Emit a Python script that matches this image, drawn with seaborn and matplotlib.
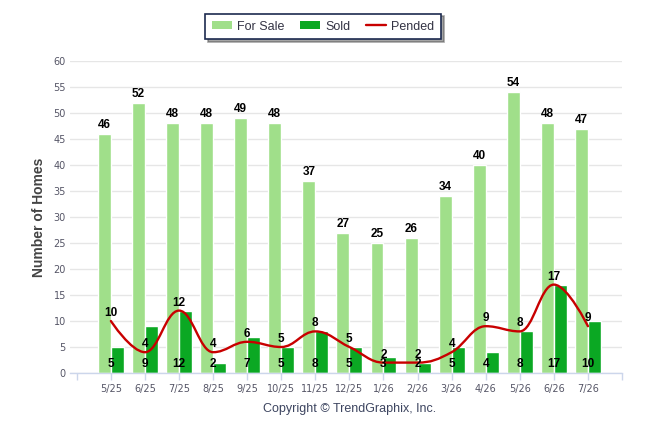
import numpy as np
import pandas as pd
import matplotlib
matplotlib.use("Agg")
import matplotlib.pyplot as plt
from matplotlib.path import Path
from matplotlib.patches import PathPatch, Patch
from matplotlib.lines import Line2D
import seaborn as sns

months = ["5/25", "6/25", "7/25", "8/25", "9/25", "10/25", "11/25", "12/25",
          "1/26", "2/26", "3/26", "4/26", "5/26", "6/26", "7/26"]
for_sale = [46, 52, 48, 48, 49, 48, 37, 27, 25, 26, 34, 40, 54, 48, 47]
sold = [5, 9, 12, 2, 7, 5, 8, 5, 3, 2, 5, 4, 8, 17, 10]
pended = [10, 4, 12, 4, 6, 5, 8, 5, 2, 2, 4, 9, 8, 17, 9]

C_SALE = "#a0df8a"
C_SOLD = "#0ba823"
C_PEND = "#c80000"

sns.set_theme(style="white")
plt.rcParams["font.family"] = ["Liberation Sans", "DejaVu Sans"]

df = pd.DataFrame({
    "Month": months * 2,
    "Homes": for_sale + sold,
    "Series": ["For Sale"] * len(months) + ["Sold"] * len(months),
})

fig = plt.figure(figsize=(6.46, 4.34), dpi=100)
W, H = 646, 434
ax = fig.add_axes([70 / W, 1 - 373 / H, (622 - 70) / W, (373 - 61) / H])

sns.barplot(data=df, x="Month", y="Homes", hue="Series", order=months,
            hue_order=["For Sale", "Sold"], palette=[C_SALE, C_SOLD],
            width=0.76, ax=ax, legend=False, saturation=1)

# Highcharts-style spline for Pended
xs = np.arange(len(pended), dtype=float)
ys = np.array(pended, dtype=float)
n = len(xs)
sm = 1.5
den = sm + 1
rcx = [None] * n
rcy = [None] * n
lcx = [None] * n
lcy = [None] * n
for i in range(1, n - 1):
    px, py = xs[i], ys[i]
    lx, ly = xs[i - 1], ys[i - 1]
    nx, ny = xs[i + 1], ys[i + 1]
    lcX = (sm * px + lx) / den
    lcY = (sm * py + ly) / den
    rcX = (sm * px + nx) / den
    rcY = (sm * py + ny) / den
    corr = 0.0
    if rcX != lcX:
        corr = (rcY - lcY) * (rcX - px) / (rcX - lcX) + py - rcY
    lcY += corr
    rcY += corr
    if lcY > ly and lcY > py:
        lcY = max(ly, py); rcY = 2 * py - lcY
    elif lcY < ly and lcY < py:
        lcY = min(ly, py); rcY = 2 * py - lcY
    if rcY > ny and rcY > py:
        rcY = max(ny, py); lcY = 2 * py - rcY
    elif rcY < ny and rcY < py:
        rcY = min(ny, py); lcY = 2 * py - rcY
    lcx[i], lcy[i], rcx[i], rcy[i] = lcX, lcY, rcX, rcY

verts = [(xs[0], ys[0])]
codes = [Path.MOVETO]
for i in range(1, n):
    c1 = (rcx[i - 1] if rcx[i - 1] is not None else xs[i - 1],
          rcy[i - 1] if rcy[i - 1] is not None else ys[i - 1])
    c2 = (lcx[i] if lcx[i] is not None else xs[i],
          lcy[i] if lcy[i] is not None else ys[i])
    verts += [c1, c2, (xs[i], ys[i])]
    codes += [Path.CURVE4] * 3
ax.add_patch(PathPatch(Path(verts, codes), fill=False, edgecolor=C_PEND,
                       linewidth=1.7, zorder=4, capstyle="round", joinstyle="round"))

# data labels
lab_kw = dict(fontsize=8.5, fontweight="bold", color="black", ha="center",
              textcoords="offset pixels", zorder=6)
for i, v in enumerate(for_sale):
    ax.annotate(str(v), (i - 0.19, v), xytext=(0, 3), va="bottom", **lab_kw)
for i, v in enumerate(sold):
    ax.annotate(str(v), (i, 0), xytext=(0, 9), va="center", **lab_kw)
for i, v in enumerate(pended):
    ax.annotate(str(v), (i, v), xytext=(0, 8), va="center", **lab_kw)

ax.set_ylim(0, 60)
ax.set_xlim(-1.2, 15)
ax.set_yticks(range(0, 61, 5))
ax.set_xticks(range(len(months)))
ax.set_xticklabels(months)
ax.set_xticks([-1, 15], minor=True)
ax.yaxis.grid(True, color="#e6e6e6", linewidth=1)
ax.set_axisbelow(True)
for s in ["top", "right", "left"]:
    ax.spines[s].set_visible(False)
ax.spines["bottom"].set_color("#ccd6eb")
ax.spines["bottom"].set_linewidth(1)
ax.tick_params(axis="x", which="both", length=5, color="#ccd6eb", width=1,
               pad=3, labelsize=7.5, labelcolor="#555566", bottom=True)
ax.tick_params(axis="y", length=0, pad=3, labelsize=7.5, labelcolor="#555566")
for t in ax.get_xticklabels() + ax.get_yticklabels():
    t.set_family(["DejaVu Sans"])
    t.set_fontsize(7)
ax.set_xlabel("")
ax.set_ylabel("Number of Homes", fontsize=10, fontweight="bold", color="#444444",
              labelpad=5)

handles = [Patch(facecolor=C_SALE, edgecolor="none"),
           Patch(facecolor=C_SOLD, edgecolor="none"),
           Line2D([0], [0], color=C_PEND, linewidth=1.7)]
leg = fig.legend(handles, ["For Sale", "Sold", "Pended"], loc="center",
                 bbox_to_anchor=(323 / W, 1 - 26.5 / H), ncol=3, frameon=True,
                 fancybox=False, shadow=True, fontsize=9, handlelength=1.6,
                 handleheight=0.6, columnspacing=1.2, handletextpad=0.45,
                 borderpad=0.55, borderaxespad=0)
leg.get_frame().set_edgecolor("#1c2a4f")
leg.get_frame().set_linewidth(1.2)
for t in leg.get_texts():
    t.set_color("#333344")

fig.text(350 / W, 1 - 409 / H, "Copyright \u00a9 TrendGraphix, Inc.", ha="center",
         va="center", fontsize=9, color="#3d4560")

fig.savefig("out.png", dpi=100)
